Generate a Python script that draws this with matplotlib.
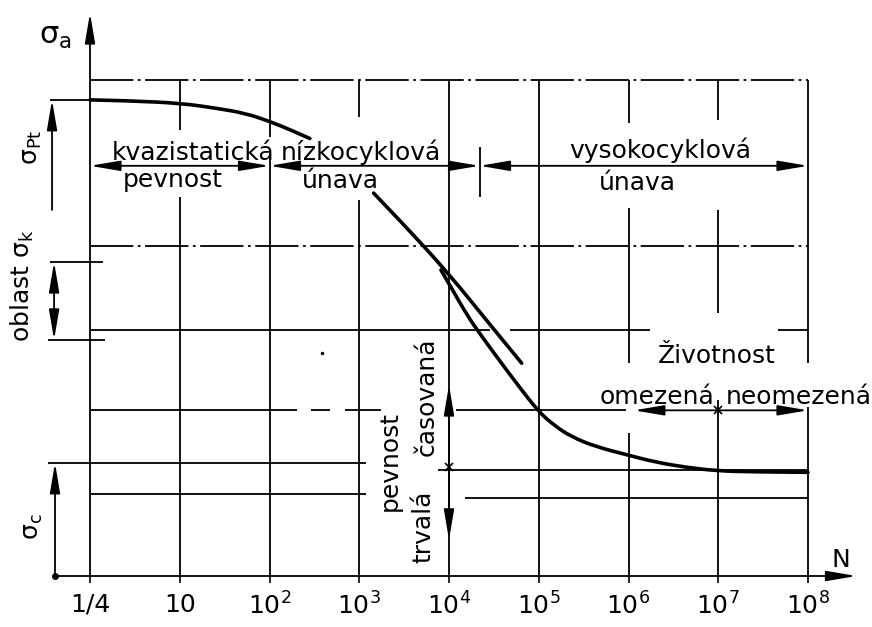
import matplotlib
matplotlib.use("Agg")
import matplotlib.pyplot as plt
from matplotlib.path import Path
from matplotlib.patches import PathPatch

plt.rcParams["font.family"] = ["DejaVu Sans"]
plt.rcParams["mathtext.fontset"] = "dejavusans"

# ---------------- data ----------------
# x axis: number of cycles N (position = log10 N, with 1/4 placed at 0)
tick_pos = [0, 1, 2, 3, 4, 5, 6, 7, 8]
tick_labels = ["1/4", "10", r"$10^2$", r"$10^3$", r"$10^4$", r"$10^5$",
               r"$10^6$", r"$10^7$", r"$10^8$"]

# quasi-static strength curve
quasi_x = [0.0, 0.47, 1.02, 1.41, 1.73, 2.01, 2.24, 2.45]
quasi_y = [96.0, 95.8, 95.3, 94.3, 93.3, 91.6, 89.9, 88.2]

# upper (short) fatigue line
upper_x = [3.16, 3.49, 4.0, 4.46, 4.81]
upper_y = [77.2, 71.0, 60.9, 50.6, 42.9]

# Wöhler curve
woehler_x = [3.91, 4.02, 4.21, 4.37, 4.56, 4.78, 5.0, 5.17, 5.36, 5.63,
             5.99, 6.29, 6.64, 6.99, 7.37, 8.0]
woehler_y = [61.7, 58.3, 52.3, 48.2, 43.5, 38.2, 33.1, 30.4, 28.1, 26.1,
             24.4, 23.0, 21.9, 21.2, 21.0, 20.9]

# reference stress levels
level_top = 100.0
level_regions = 82.7
level_dashdot = 66.6
level_mid = 49.6
level_life = 33.4
level_fatigue_left = 22.8
level_fatigue_right = 21.3
level_low_left = 16.5
level_low_right = 15.7
level_pt = 96.0
level_k_top = 63.3
level_k_bot = 47.6

# region boundaries on the N axis
region_bounds = [0, 2, 4.34, 8]
life_bound = 7
life_left = 6.06

# ---------------- figure ----------------
W, H = 872, 627
fig = plt.figure(figsize=(W / 100, H / 100), dpi=100)
ax = fig.add_axes([90 / W, 51 / H, 718 / W, 496 / H])
ax.set_xlim(0, 8)
ax.set_ylim(0, 100)
for s in ax.spines.values():
    s.set_visible(False)
ax.set_yticks([])
ax.set_xticks(tick_pos, tick_labels, fontsize=18)
ax.tick_params(axis="x", length=5, width=1.2, direction="out", pad=7)

LW = 1.3
K = "black"


def seg(xs, ys, lw=LW, ls="-"):
    ax.plot(xs, ys, color=K, lw=lw, ls=ls, clip_on=False, solid_capstyle="butt")


def arrow(x0, y0, x1, y1, both=False, lw=LW):
    style = ("<|-|>" if both else "-|>") + ",head_length=1.3,head_width=0.22"
    ax.annotate("", xy=(x1, y1), xytext=(x0, y0), annotation_clip=False,
                arrowprops=dict(arrowstyle=style, lw=lw, color=K,
                                shrinkA=0, shrinkB=0, mutation_scale=14))


def smooth_curve(xs, ys, lw):
    pts = list(zip(xs, ys))
    verts = [pts[0]]
    codes = [Path.MOVETO]
    n = len(pts)
    for i in range(1, n - 1):
        ctrl = pts[i]
        if i == n - 2:
            end = pts[n - 1]
        else:
            end = ((pts[i][0] + pts[i + 1][0]) / 2, (pts[i][1] + pts[i + 1][1]) / 2)
        verts += [ctrl, end]
        codes += [Path.CURVE3, Path.CURVE3]
    if n == 2:
        verts.append(pts[1])
        codes.append(Path.LINETO)
    patch = PathPatch(Path(verts, codes), facecolor="none", edgecolor=K,
                      lw=lw, capstyle="round", joinstyle="round", clip_on=False)
    ax.add_patch(patch)


# axes with arrows
arrow(0, 0, 0, 113.5)
arrow(-0.39, 0, 8.54, 0)
ax.plot([-0.39], [0], "o", color=K, ms=4, clip_on=False)

# dash-dot lines
dd = (0, (24, 2.5, 1.5, 2.5))
seg([0, 8], [level_top, level_top], ls=dd)
seg([0, 8], [level_dashdot, level_dashdot], ls=dd)

# vertical grid segments (x, y0, y1)
vsegs = [(1, 89.9, 100), (1, 0, 76.4),
         (2, 88.5, 100), (2, 0, 84.3),
         (3, 92.5, 100), (3, 0, 75.8),
         (4, 0, 100), (5, 0, 100),
         (6, 91.3, 100), (6, 42.9, 74.2), (6, 0, 28.8),
         (7, 91.9, 100), (7, 53.0, 73.8), (7, 0, 35.5),
         (8, 42.9, 100), (8, 0, 34.1)]
for x, y0, y1 in vsegs:
    seg([x, x], [y0, y1])

# horizontal segments (y, x0, x1)
hsegs = [(level_mid, 0, 4.46), (level_mid, 4.68, 6.24), (level_mid, 7.67, 8),
         (level_life, 0, 2.31), (level_life, 2.46, 2.67), (level_life, 2.84, 3.24),
         (level_life, 4.08, 5.97),
         (level_fatigue_left, -0.468, 3.08), (level_fatigue_right, 3.88, 8),
         (level_low_left, 0, 3.08), (level_low_right, 4.18, 8)]
for y, x0, x1 in hsegs:
    seg([x0, x1], [y, y])

# region arrows
for a, b in zip(region_bounds[:-1], region_bounds[1:]):
    arrow(a, level_regions, b, level_regions, both=True)
seg([4.34, 4.34], [76.4, 86.5])

# life arrows (omezená / neomezená)
arrow(life_bound, level_life, life_left, level_life)
arrow(life_bound, level_life, 8, level_life)
ax.plot([life_bound], [level_life], "x", color=K, ms=6, mew=1.2, clip_on=False)

# pevnost trvalá / časovaná arrows on 10^4
arrow(4, 22.0, 4, 38.5)
arrow(4, 22.0, 4, 7.3)
ax.plot([4], [22.0], "x", color=K, ms=6, mew=1.2, clip_on=False)

# left dimension lines
seg([-0.446, 0], [level_pt, level_pt])
arrow(-0.423, 73.8, -0.423, level_pt)
seg([-0.446, 0.145], [level_k_top, level_k_top])
seg([-0.468, 0.167], [level_k_bot, level_k_bot])
arrow(-0.40, level_k_bot, -0.40, level_k_top, both=True)
arrow(-0.39, 0, -0.39, level_fatigue_left)

# curves
CW = 2.6
smooth_curve(quasi_x, quasi_y, CW)
smooth_curve(upper_x, upper_y, CW)
smooth_curve(woehler_x, woehler_y, CW)

# stray dot from the original drawing
ax.plot([2.58], [45.0], "o", color=K, ms=1.5, clip_on=False)

# ---------------- texts ----------------
FS = 18
ax.text(-0.39, 108.7, r"σ$_{\rm a}$", fontsize=22, ha="center", va="center")
ax.text(8.37, 0.8, "N", fontsize=18, ha="center", va="bottom")
ax.text(-0.646, 86.5, r"σ$_{\rm Pt}$", fontsize=FS, rotation=90, ha="center", va="center")
ax.text(-0.757, 58.5, r"oblast σ$_{\rm k}$", fontsize=FS, rotation=90, ha="center", va="center")
ax.text(-0.635, 9.9, r"σ$_{\rm c}$", fontsize=FS, rotation=90, ha="center", va="center")

ax.text(1.148, 83.9, "kvazistatická", fontsize=FS, ha="center", va="baseline")
ax.text(3.02, 83.9, "nízkocyklová", fontsize=FS, ha="center", va="baseline")
ax.text(0.92, 78.4, "pevnost", fontsize=FS, ha="center", va="baseline")
ax.text(2.79, 78.2, "únava", fontsize=FS, ha="center", va="baseline")
ax.text(6.35, 84.3, "vysokocyklová", fontsize=FS, ha="center", va="baseline")
ax.text(6.10, 77.8, "únava", fontsize=FS, ha="center", va="baseline")

ax.text(6.98, 42.9, "Životnost", fontsize=FS, ha="center", va="baseline")
ax.text(6.32, 34.7, "omezená", fontsize=FS, ha="center", va="baseline")
ax.text(7.90, 34.7, "neomezená", fontsize=FS, ha="center", va="baseline")

ax.text(3.34, 23.2, "pevnost", fontsize=FS, rotation=90, ha="center", va="center")
ax.text(3.72, 9.9, "trvalá", fontsize=FS, rotation=90, ha="center", va="center")
ax.text(3.75, 36.1, "časovaná", fontsize=FS, rotation=90, ha="center", va="center")

fig.savefig("out.png", dpi=100)
